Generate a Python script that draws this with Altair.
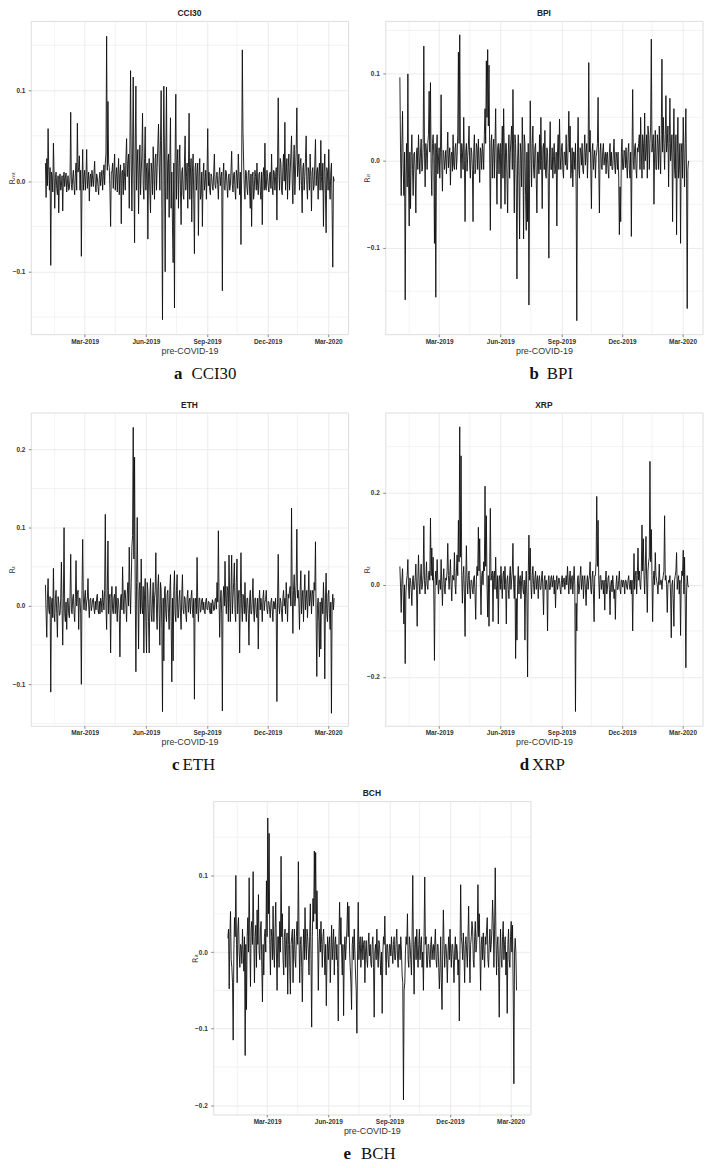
import altair as alt
import pandas as pd

# ---------------- data: daily returns from 2019-01-01 ----------------
START = "2019-01-01"

cci30 = [
    0.02, -0.018, 0.025, -0.005, 0.058, 0.012, -0.01, 0.015, -0.093, 0.01, 0.005, -0.012, 0.042, 0.008, -0.03, 0.004, 0.01, -0.008, -0.015, 0.006,
    -0.035, 0.002, 0.008, -0.01, -0.005, 0.006, -0.033, 0.004, 0.01, -0.006, 0.003, 0.009, -0.012, -0.002, 0.006, -0.01, -0.008, 0.005, 0.076, -0.004,
    -0.01, 0.004, 0.012, -0.006, -0.015, 0.008, 0.02, -0.01, 0.064, 0.01, 0.015, 0.028, -0.01, 0.012, -0.083, -0.004, 0.035, -0.01, 0.005, 0.012,
    -0.01, 0.006, 0.035, -0.008, 0.002, 0.01, -0.022, 0.004, 0.008, -0.006, 0.012, 0.002, -0.006, 0.009, 0.022, -0.004, -0.012, 0.008, 0.004, -0.006,
    -0.015, 0.003, 0.01, -0.005, 0.005, 0.012, -0.01, 0.006, 0.018, -0.004, 0.02, 0.03, 0.16, 0.012, 0.088, 0.02, 0.015, -0.01, -0.05, 0.01,
    0.01, 0.02, -0.008, 0.012, 0.03, -0.01, 0.005, 0.015, -0.012, 0.008, 0.025, -0.015, 0.008, 0.018, -0.047, 0.01, 0.012, -0.015, 0.02, 0.005,
    -0.01, 0.025, 0.047, 0.005, 0.02, 0.03, -0.03, 0.04, 0.122, 0.02, -0.033, 0.03, 0.115, 0.01, -0.068, 0.04, 0.105, -0.01, 0.02, 0.035,
    -0.036, 0.01, 0.04, -0.015, 0.01, 0.03, 0.075, -0.005, -0.02, 0.025, 0.06, -0.01, 0.015, 0.02, -0.064, 0.01, 0.025, -0.012, -0.035, 0.02,
    0.01, -0.015, 0.038, 0.01, -0.02, 0.025, 0.03, -0.01, 0.015, 0.04, 0.063, 0.02, -0.01, 0.045, 0.1, -0.03, -0.153, 0.02, 0.105, 0.03,
    -0.1, 0.03, 0.104, -0.02, 0.02, 0.03, -0.04, 0.025, 0.07, -0.03, 0.01, -0.05, -0.09, 0.02, -0.14, 0.03, 0.096, -0.02, 0.02, 0.035,
    -0.03, 0.015, 0.04, -0.01, -0.048, 0.01, 0.015, -0.015, -0.02, 0.02, 0.05, -0.01, 0.005, 0.02, -0.03, 0.015, 0.075, -0.02, 0.01, 0.025,
    -0.045, 0.01, 0.03, -0.02, -0.08, 0.015, 0.02, -0.01, 0.01, 0.02, -0.06, 0.005, 0.025, -0.02, -0.015, 0.01, -0.05, 0.005, 0.02, -0.01,
    0.0, 0.012, -0.02, 0.01, 0.058, -0.005, 0.01, -0.01, -0.015, 0.008, 0.005, -0.006, -0.01, 0.01, 0.03, -0.005, -0.008, 0.006, 0.01, -0.004,
    -0.02, 0.006, 0.015, -0.005, 0.005, 0.01, -0.121, 0.005, 0.02, -0.008, -0.01, 0.012, 0.01, -0.006, -0.018, 0.004, 0.008, -0.01, -0.005, 0.012,
    0.033, -0.004, -0.012, 0.008, 0.01, -0.01, -0.02, 0.012, 0.005, -0.008, 0.03, 0.004, -0.015, 0.01, -0.07, 0.01, 0.145, 0.055, 0.02, -0.01,
    -0.02, 0.012, 0.01, -0.008, -0.015, 0.01, 0.012, -0.012, -0.03, 0.008, -0.05, 0.005, 0.01, -0.02, -0.01, 0.012, 0.005, -0.01, 0.02, -0.005,
    -0.015, 0.008, 0.01, -0.01, -0.02, 0.01, -0.048, 0.005, 0.015, -0.01, 0.042, -0.008, -0.01, 0.012, 0.005, -0.006, -0.012, 0.008, 0.01, -0.008,
    0.03, -0.005, -0.015, 0.012, 0.01, -0.01, 0.005, 0.015, -0.043, 0.02, 0.092, 0.01, -0.01, 0.025, 0.02, -0.01, -0.015, 0.015, 0.03, 0.0,
    0.065, -0.01, 0.01, 0.025, -0.02, 0.015, 0.03, -0.01, 0.01, 0.03, 0.05, 0.0, -0.025, 0.02, 0.04, -0.015, 0.01, 0.035, 0.081, 0.005,
    0.015, 0.03, -0.01, 0.02, 0.025, -0.005, -0.035, 0.015, 0.02, -0.01, 0.005, 0.025, 0.05, -0.005, -0.02, 0.015, 0.01, -0.01, 0.03, 0.005,
    -0.033, 0.01, 0.015, -0.01, -0.005, 0.02, 0.046, -0.005, 0.01, 0.015, -0.02, 0.01, 0.02, -0.01, 0.045, 0.005, -0.01, 0.02, -0.05, 0.01,
    0.03, -0.015, -0.057, 0.015, 0.01, -0.01, 0.035, -0.005, -0.02, 0.01, 0.02, -0.03, -0.095, 0.005, 0.0,
]

bpi = [
    0.096, 0.01, -0.04, 0.02, 0.057, -0.01, -0.04, 0.01, -0.16, -0.02, 0.02, -0.03, 0.1, -0.02, -0.075, 0.01, -0.055, 0.005, 0.03, -0.01,
    -0.04, 0.008, 0.01, -0.015, -0.06, 0.01, 0.015, -0.01, 0.03, 0.005, -0.015, 0.01, 0.025, -0.012, -0.01, 0.02, 0.132, 0.01, -0.03, 0.02,
    0.01, -0.01, 0.02, 0.03, 0.08, 0.01, 0.09, -0.01, -0.04, 0.02, 0.03, 0.005, -0.095, 0.02, -0.157, 0.01, 0.03, -0.015, 0.0, 0.015,
    -0.02, 0.01, 0.076, -0.005, -0.035, 0.012, 0.01, -0.01, 0.0, 0.012, -0.015, 0.008, 0.033, -0.008, 0.005, 0.015, -0.028, 0.005, 0.01, -0.012,
    0.03, -0.005, -0.01, 0.015, 0.02, -0.01, 0.005, 0.03, 0.125, 0.02, 0.145, 0.01, -0.02, 0.02, 0.01, -0.01, 0.05, 0.0, -0.07, 0.01,
    0.02, -0.012, 0.005, 0.018, 0.04, -0.005, -0.02, 0.015, 0.01, -0.01, -0.07, 0.01, 0.03, -0.015, -0.01, 0.02, 0.015, -0.01, 0.025, 0.0,
    -0.025, 0.015, 0.01, -0.01, 0.02, 0.01, -0.01, 0.03, 0.06, 0.02, 0.115, 0.05, 0.128, 0.04, 0.11, 0.01, -0.08, 0.02, 0.03, -0.02,
    0.01, 0.025, -0.02, 0.02, 0.06, -0.01, -0.05, 0.015, 0.02, -0.015, 0.01, 0.02, -0.055, 0.01, 0.04, -0.02, 0.06, 0.01, -0.05, 0.02,
    0.02, -0.02, -0.06, 0.01, 0.03, -0.02, 0.01, 0.025, 0.04, -0.01, 0.082, 0.01, -0.06, 0.03, 0.02, -0.03, -0.136, 0.0, 0.03, -0.02,
    -0.09, 0.02, 0.01, -0.03, 0.05, 0.01, -0.09, 0.03, 0.02, -0.04, -0.08, 0.01, -0.07, 0.02, -0.166, -0.02, 0.069, 0.01, -0.03, 0.02,
    0.04, -0.01, -0.02, 0.015, 0.02, -0.02, -0.06, 0.01, 0.01, -0.015, 0.03, -0.01, 0.05, 0.0, -0.055, 0.015, 0.02, -0.01, 0.035, -0.015,
    -0.02, 0.015, 0.01, -0.02, -0.112, 0.01, 0.045, -0.01, -0.01, 0.015, -0.02, 0.005, 0.02, -0.015, -0.01, 0.01, -0.075, 0.01, 0.03, -0.01,
    0.048, 0.005, -0.01, 0.015, 0.02, -0.01, -0.02, 0.01, 0.01, -0.005, 0.03, -0.01, -0.01, 0.02, 0.057, 0.01, 0.04, -0.02, -0.01, 0.015,
    -0.03, 0.01, 0.01, -0.01, 0.02, -0.03, -0.184, 0.01, 0.05, -0.01, -0.02, 0.015, 0.01, -0.005, 0.02, -0.01, -0.015, 0.01, 0.03, -0.005,
    0.01, 0.02, -0.02, 0.01, 0.113, 0.01, 0.035, -0.01, -0.055, 0.01, 0.02, -0.01, 0.005, 0.012, -0.02, 0.005, 0.01, 0.02, 0.073, -0.01,
    -0.06, 0.01, 0.02, -0.008, -0.01, 0.012, 0.02, -0.005, 0.005, 0.01, -0.015, 0.008, 0.01, -0.01, -0.02, 0.01, 0.02, -0.006, 0.01, -0.01,
    -0.01, 0.01, 0.025, -0.005, -0.015, 0.01, 0.005, -0.01, 0.01, -0.02, -0.085, -0.03, -0.07, 0.01, 0.025, -0.01, -0.01, 0.012, 0.01, -0.008,
    0.015, -0.005, -0.02, 0.01, 0.02, -0.01, -0.02, 0.01, -0.087, 0.005, 0.082, 0.0, -0.01, 0.015, 0.02, -0.01, -0.02, 0.015, 0.01, 0.02,
    0.03, -0.01, 0.05, 0.01, -0.02, 0.03, 0.02, -0.01, 0.055, 0.0, 0.01, 0.03, -0.02, 0.04, 0.03, -0.01, 0.02, 0.04, 0.14, 0.01,
    0.02, 0.03, -0.05, 0.01, 0.035, -0.01, -0.01, 0.03, 0.02, -0.01, 0.04, 0.01, -0.015, 0.03, 0.117, 0.01, 0.05, 0.02, -0.01, 0.03,
    0.075, 0.01, 0.02, 0.04, -0.03, 0.02, 0.072, 0.0, 0.01, 0.03, -0.07, 0.01, 0.06, -0.01, -0.02, 0.03, -0.085, 0.01, 0.05, -0.02,
    -0.01, 0.02, -0.095, 0.01, 0.02, -0.02, 0.05, 0.01, -0.03, 0.02, 0.06, -0.02, -0.17, -0.01, 0.0,
]

eth = [
    0.027, -0.01, -0.04, 0.01, 0.035, -0.005, -0.01, 0.012, -0.11, 0.0, 0.01, -0.015, 0.048, -0.01, -0.02, 0.01, 0.02, -0.01, -0.04, 0.012,
    0.005, -0.012, -0.01, 0.01, 0.056, -0.005, -0.05, 0.01, 0.1, -0.01, -0.02, 0.005, -0.03, 0.008, 0.01, -0.01, -0.015, 0.012, 0.066, -0.005,
    -0.01, 0.01, 0.015, -0.008, -0.02, 0.01, 0.058, 0.0, 0.015, 0.02, -0.03, 0.01, 0.01, -0.01, -0.1, 0.02, 0.085, 0.01, -0.005, 0.012,
    0.02, -0.006, 0.005, 0.01, 0.035, 0.0, -0.015, 0.008, 0.01, -0.006, 0.0, 0.008, 0.01, -0.004, -0.01, 0.006, -0.005, 0.01, 0.015, -0.005,
    -0.01, 0.006, -0.01, 0.01, 0.005, -0.008, 0.02, 0.005, -0.005, 0.02, 0.117, 0.0, -0.03, 0.02, 0.083, -0.01, 0.01, 0.015, -0.06, 0.01,
    0.025, -0.005, -0.01, 0.012, 0.015, -0.01, 0.025, 0.0, -0.02, 0.01, 0.005, -0.01, -0.065, 0.01, 0.015, -0.005, 0.05, 0.01, -0.01, 0.02,
    0.02, 0.0, -0.02, 0.015, 0.03, 0.0, 0.075, 0.02, -0.01, 0.03, 0.075, 0.09, 0.228, 0.06, 0.19, 0.02, -0.084, 0.03, 0.113, 0.02,
    -0.055, 0.02, 0.03, -0.01, 0.06, 0.0, -0.01, 0.025, -0.06, 0.015, 0.035, -0.02, -0.06, 0.03, 0.02, -0.02, -0.06, 0.01, 0.035, -0.01,
    -0.02, 0.01, 0.03, -0.02, 0.01, 0.02, 0.068, -0.01, -0.03, 0.025, 0.04, -0.01, -0.05, 0.03, 0.02, -0.03, -0.135, 0.01, -0.07, 0.02,
    0.025, -0.01, -0.02, 0.015, 0.02, -0.01, -0.03, 0.02, 0.04, -0.02, -0.097, 0.01, -0.07, 0.02, 0.045, -0.01, -0.02, 0.02, 0.04, -0.015,
    -0.015, 0.01, 0.02, -0.01, -0.03, 0.015, 0.04, -0.005, -0.01, 0.012, 0.01, -0.01, -0.02, 0.01, 0.02, -0.008, 0.005, 0.01, -0.01, 0.012,
    0.02, -0.005, -0.015, 0.01, -0.119, 0.005, 0.01, -0.01, 0.062, 0.0, -0.02, 0.01, 0.01, -0.008, -0.005, 0.008, 0.01, -0.005, 0.005, -0.008,
    -0.01, 0.006, 0.01, -0.004, -0.005, 0.006, 0.005, -0.008, -0.01, 0.004, -0.01, 0.008, 0.005, -0.006, -0.005, 0.008, 0.01, -0.004, 0.03, 0.005,
    0.096, 0.01, -0.04, 0.005, 0.02, -0.01, -0.134, 0.01, 0.025, 0.0, 0.057, 0.01, -0.01, 0.025, 0.02, -0.02, 0.065, 0.01, -0.02, 0.02,
    0.065, -0.01, 0.01, 0.03, 0.055, -0.005, -0.02, 0.03, 0.06, -0.01, 0.01, 0.02, -0.06, 0.01, 0.068, 0.0, -0.02, 0.015, 0.01, -0.01,
    0.03, -0.005, -0.02, 0.01, 0.01, -0.01, -0.05, 0.01, 0.02, -0.01, -0.01, 0.01, 0.035, -0.005, -0.02, 0.01, 0.01, -0.01, -0.015, 0.01,
    -0.055, 0.005, 0.02, -0.005, 0.01, 0.0, -0.02, 0.01, 0.02, -0.006, 0.005, 0.008, 0.02, -0.004, -0.01, 0.006, 0.005, -0.005, -0.015, 0.005,
    0.01, -0.005, -0.02, 0.006, 0.005, -0.004, 0.01, -0.01, -0.122, 0.01, 0.066, 0.0, -0.01, 0.01, 0.005, -0.008, -0.02, 0.01, 0.02, 0.0,
    0.01, -0.01, 0.03, 0.005, -0.02, 0.015, 0.01, 0.02, 0.025, 0.0, 0.125, 0.02, -0.035, 0.02, 0.04, 0.0, 0.01, 0.03, 0.098, 0.01,
    0.02, 0.005, -0.03, 0.02, 0.045, -0.01, 0.01, 0.02, -0.02, 0.015, 0.04, -0.005, 0.01, 0.02, -0.015, 0.01, 0.045, 0.0, 0.01, 0.02,
    -0.01, 0.015, 0.02, 0.0, 0.03, 0.02, 0.082, -0.02, -0.09, 0.0, 0.01, -0.02, -0.065, 0.005, -0.055, 0.01, 0.01, -0.01, 0.03, 0.0,
    -0.093, 0.01, 0.042, -0.01, -0.02, 0.015, 0.02, -0.01, -0.03, 0.005, -0.137, 0.0, 0.015, -0.005, 0.01,
]

xrp = [
    0.04, -0.005, -0.06, 0.01, 0.035, -0.02, -0.085, 0.0, -0.171, -0.02, 0.01, 0.02, 0.055, -0.005, -0.03, 0.015, 0.01, -0.01, -0.045, 0.01,
    0.02, -0.01, -0.01, 0.015, 0.045, -0.01, -0.09, 0.01, 0.065, 0.005, -0.02, 0.015, 0.045, -0.01, 0.0, 0.02, 0.128, 0.01, -0.02, 0.01,
    0.05, 0.0, -0.01, 0.02, 0.03, 0.01, 0.145, 0.02, 0.08, 0.01, 0.06, -0.02, -0.164, 0.01, 0.03, 0.0, 0.055, 0.01, -0.02, 0.01,
    0.01, -0.01, 0.055, 0.0, -0.045, 0.01, 0.035, -0.01, -0.02, 0.015, 0.01, 0.03, 0.09, 0.02, -0.01, 0.02, 0.055, 0.0, -0.035, 0.02,
    0.02, 0.01, 0.07, 0.0, -0.02, 0.03, 0.065, 0.02, 0.14, 0.05, 0.343, 0.06, 0.28, 0.02, -0.04, 0.02, 0.04, -0.02, -0.112, 0.01,
    0.085, 0.01, -0.02, 0.02, 0.03, -0.01, -0.03, 0.01, 0.01, -0.01, -0.02, 0.015, 0.02, -0.02, -0.075, 0.01, 0.04, 0.02, 0.125, 0.03,
    0.1, 0.0, -0.065, 0.02, 0.03, 0.0, 0.05, 0.03, 0.214, 0.04, 0.15, 0.0, -0.07, 0.02, -0.09, 0.03, 0.166, 0.01, 0.02, 0.03,
    -0.08, 0.02, 0.03, -0.01, 0.06, 0.0, -0.03, 0.02, -0.085, 0.01, 0.02, -0.01, 0.04, 0.0, -0.03, 0.02, 0.03, -0.01, 0.04, 0.0,
    -0.085, 0.01, 0.02, -0.01, -0.03, 0.02, 0.04, -0.01, 0.01, 0.03, 0.09, 0.0, -0.03, 0.02, -0.16, -0.03, -0.12, 0.0, 0.04, -0.02,
    0.01, 0.02, -0.03, 0.01, 0.03, -0.01, -0.02, 0.01, -0.12, 0.0, 0.03, -0.03, -0.2, 0.02, 0.108, 0.01, 0.08, 0.0, -0.03, 0.02,
    0.04, 0.0, -0.02, 0.015, 0.03, -0.01, 0.01, 0.02, -0.03, 0.01, 0.02, -0.01, -0.01, 0.015, 0.03, -0.01, -0.065, 0.01, 0.02, -0.01,
    0.01, 0.0, -0.1, 0.01, 0.02, -0.01, -0.01, 0.015, 0.02, -0.005, 0.01, 0.02, -0.02, 0.01, -0.05, 0.005, 0.02, -0.01, 0.0, 0.015,
    0.01, -0.01, -0.02, 0.01, 0.02, -0.005, 0.01, 0.015, -0.01, 0.005, 0.02, 0.0, 0.04, 0.01, -0.02, 0.015, 0.03, -0.01, 0.01, 0.02,
    -0.02, 0.01, 0.04, 0.0, -0.275, -0.04, -0.1, 0.01, 0.02, -0.02, -0.01, 0.02, 0.04, -0.01, 0.01, 0.02, -0.03, 0.01, 0.02, -0.01,
    -0.045, 0.005, 0.02, -0.01, 0.01, 0.02, 0.05, -0.01, -0.02, 0.015, 0.03, -0.02, -0.08, 0.02, 0.02, 0.05, 0.192, 0.04, 0.14, 0.01,
    -0.03, 0.02, 0.02, -0.01, 0.01, 0.005, -0.02, 0.01, -0.055, 0.005, 0.03, -0.02, -0.01, 0.015, 0.02, -0.01, -0.065, 0.0, 0.01, -0.015,
    0.02, 0.0, -0.03, -0.01, -0.075, 0.0, 0.02, -0.01, -0.01, 0.01, 0.03, -0.01, -0.02, 0.01, 0.01, -0.005, 0.01, 0.005, -0.02, 0.01,
    0.01, -0.005, -0.01, 0.01, 0.02, 0.0, -0.01, 0.01, -0.02, 0.01, -0.1, 0.0, 0.068, -0.01, 0.02, 0.03, -0.02, 0.02, 0.08, 0.01,
    0.03, 0.0, -0.01, 0.03, 0.13, 0.03, 0.1, 0.02, -0.02, 0.04, 0.105, 0.01, -0.06, 0.03, 0.05, 0.06, 0.268, 0.05, 0.12, 0.02,
    -0.08, 0.01, 0.03, 0.0, 0.07, 0.02, 0.01, 0.0, -0.02, 0.01, 0.045, 0.0, 0.01, 0.01, -0.01, 0.01, 0.02, 0.03, 0.15, 0.01,
    0.02, 0.0, -0.06, 0.0, 0.01, 0.005, 0.02, -0.02, -0.115, 0.0, 0.01, -0.03, -0.09, 0.01, 0.02, 0.03, 0.07, -0.01, 0.01, 0.02,
    -0.02, 0.01, -0.11, 0.0, 0.03, 0.02, 0.075, -0.02, 0.06, -0.04, -0.18, -0.02, 0.02, 0.0, -0.005,
]

bch = [
    0.018, 0.03, -0.048, 0.02, 0.053, -0.01, -0.02, -0.04, -0.115, 0.0, 0.045, 0.02, 0.1, 0.01, -0.04, 0.03, 0.045, 0.0, -0.02, 0.01,
    0.008, -0.015, 0.03, 0.0, -0.025, 0.02, -0.135, 0.01, -0.075, 0.02, 0.045, 0.0, 0.097, 0.02, -0.045, 0.03, 0.04, 0.01, 0.105, 0.02,
    -0.04, 0.02, 0.035, -0.02, 0.055, 0.01, 0.075, 0.0, -0.01, 0.03, 0.04, -0.02, -0.065, 0.01, -0.03, 0.02, 0.03, 0.0, 0.093, 0.02,
    0.175, 0.05, 0.155, 0.01, -0.03, 0.03, 0.02, -0.01, 0.06, 0.0, -0.02, 0.03, 0.065, 0.0, -0.05, 0.02, 0.02, -0.02, 0.04, 0.0,
    0.125, 0.02, 0.05, -0.01, -0.03, 0.02, 0.03, -0.02, 0.01, 0.025, -0.055, 0.01, 0.06, -0.02, -0.055, 0.01, 0.02, 0.03, -0.04, 0.01,
    0.03, -0.01, -0.02, 0.02, 0.04, 0.01, 0.118, 0.02, -0.04, 0.01, 0.02, -0.02, -0.065, 0.0, 0.03, -0.01, 0.058, 0.01, -0.01, 0.03,
    0.02, 0.0, -0.03, 0.02, 0.063, -0.01, -0.098, 0.02, 0.07, 0.04, 0.132, 0.05, 0.13, 0.03, 0.08, 0.02, -0.05, 0.01, 0.03, 0.0,
    0.04, 0.01, -0.02, 0.02, 0.03, 0.0, -0.03, 0.01, -0.07, -0.01, 0.02, -0.01, 0.01, 0.02, -0.04, 0.0, 0.035, -0.01, 0.01, 0.03,
    -0.03, 0.01, 0.02, -0.01, 0.01, -0.02, -0.09, 0.02, 0.065, 0.01, 0.045, 0.0, -0.03, 0.01, -0.083, 0.0, 0.02, -0.01, 0.01, 0.03,
    0.065, 0.02, 0.06, 0.0, -0.02, -0.04, -0.075, 0.01, 0.02, -0.01, 0.03, 0.0, -0.03, -0.05, -0.106, 0.0, 0.065, -0.01, 0.01, 0.02,
    -0.02, 0.005, 0.02, -0.01, 0.01, 0.015, -0.04, 0.0, 0.015, -0.01, -0.02, 0.01, 0.025, -0.005, 0.01, -0.015, -0.02, 0.01, 0.02, -0.02,
    -0.085, 0.0, 0.01, -0.01, 0.03, 0.0, -0.02, 0.015, 0.01, -0.01, -0.03, 0.0, -0.08, 0.0, 0.02, 0.01, 0.047, 0.0, -0.03, 0.01,
    0.01, -0.01, -0.02, 0.01, 0.01, -0.005, 0.02, 0.0, -0.015, 0.01, 0.02, -0.01, -0.01, 0.015, 0.03, -0.005, -0.02, 0.01, 0.01, -0.01,
    0.02, 0.0, -0.03, -0.04, -0.193, -0.05, -0.04, 0.0, 0.02, 0.01, 0.05, -0.01, -0.02, 0.02, 0.01, -0.01, -0.03, 0.02, 0.1, 0.0,
    -0.055, 0.01, 0.02, -0.01, 0.03, 0.0, -0.02, 0.01, 0.03, -0.01, 0.01, 0.02, -0.02, 0.0, -0.05, 0.02, 0.098, 0.01, 0.02, -0.02,
    -0.02, 0.01, 0.01, -0.01, -0.02, 0.01, 0.02, -0.01, 0.005, 0.01, -0.01, 0.01, 0.03, -0.01, -0.02, 0.01, 0.01, -0.02, -0.048, -0.02,
    0.02, -0.04, -0.075, 0.0, 0.055, 0.01, -0.02, 0.01, 0.01, -0.01, -0.04, 0.0, 0.02, -0.01, 0.03, 0.0, -0.02, 0.01, 0.01, -0.01,
    -0.04, 0.0, 0.02, -0.01, 0.01, 0.0, -0.03, -0.01, -0.09, 0.0, 0.088, 0.02, 0.01, -0.01, 0.025, 0.0, -0.04, 0.01, 0.02, 0.0,
    -0.02, 0.02, 0.06, 0.0, -0.04, 0.01, 0.02, 0.04, 0.03, -0.01, -0.02, 0.02, 0.04, 0.0, 0.01, 0.03, 0.088, 0.02, 0.05, 0.0,
    -0.05, 0.01, 0.02, -0.01, 0.025, 0.0, -0.02, 0.02, 0.01, 0.03, 0.045, -0.01, -0.02, 0.01, 0.03, 0.0, 0.01, 0.03, 0.068, 0.04,
    -0.02, 0.03, 0.11, 0.02, -0.03, 0.01, 0.02, -0.02, -0.085, 0.0, 0.03, -0.01, -0.02, 0.02, 0.04, -0.01, 0.01, 0.02, -0.03, 0.0,
    -0.08, 0.01, 0.03, -0.01, -0.02, 0.02, 0.04, 0.0, 0.035, -0.05, -0.172, 0.0, 0.018, 0.0, -0.05,
]

series = [cci30, bpi, eth, xrp, bch]
names = ["CCI30", "BPI", "ETH", "XRP", "BCH"]
letters = ["a", "b", "c", "d", "e"]
y_titles = ["R\u2098\u209c", "R\u1d62\u209c", "R\u209c", "R\u209c", "R\u1d62\u209c"]
x_title = "pre-COVID-19"

x_major = [(2019, 3, 1), (2019, 6, 1), (2019, 9, 1), (2019, 12, 1), (2020, 3, 1)]
x_minor = ["2019-01-15", "2019-04-16", "2019-07-17", "2019-10-16", "2020-01-15"]
x_domain = [(2018, 12, 10), (2020, 3, 31)]

y_major = [
    [-0.1, 0.0, 0.1],
    [-0.1, 0.0, 0.1],
    [-0.1, 0.0, 0.1, 0.2],
    [-0.2, 0.0, 0.2],
    [-0.2, -0.1, 0.0, 0.1],
]
y_minor = [
    [-0.15, -0.05, 0.05, 0.15],
    [-0.15, -0.05, 0.05, 0.15],
    [-0.15, -0.05, 0.05, 0.15],
    [-0.1, 0.1, 0.3],
    [-0.15, -0.05, 0.05, 0.15],
]
y_domain = [
    [-0.169, 0.177],
    [-0.1995, 0.161],
    [-0.153, 0.247],
    [-0.306, 0.374],
    [-0.212, 0.197],
]

# ---------------- style ----------------
W, H = 320, 316
GRID = "#EBEBEB"
TXT = "#333333"
caption_pos = [(153, 162), (155, 163), (150, 153), (145, 148), (139, 149)]
caption_dy = [40, 40, 40, 40, 40]


def dt(t):
    return alt.DateTime(year=t[0], month=t[1], date=t[2], utc=True)


def panel(i):
    vals = series[i]
    dates = pd.date_range(START, periods=len(vals), freq="D").strftime("%Y-%m-%d")
    df = pd.DataFrame({"date": list(dates), "r": vals})

    xscale = alt.Scale(type="utc", domain=[dt(x_domain[0]), dt(x_domain[1])])
    yscale = alt.Scale(domain=y_domain[i], nice=False, zero=False)

    xaxis = alt.Axis(
        values=[dt(t) for t in x_major],
        labelExpr="utcFormat(datum.value, '%b-%Y')",
        title=x_title, titleFont="Liberation Sans", titleFontSize=9,
        titleFontWeight="normal", titleColor=TXT, titlePadding=1.5,
        labelFont="Liberation Sans", labelFontSize=6.5, labelFontWeight="bold",
        labelColor=TXT, labelPadding=1.5, tickSize=2.5, tickColor=TXT,
        tickWidth=0.6, domain=False, grid=True, gridColor=GRID, gridWidth=1,
    )
    yaxis = alt.Axis(
        values=y_major[i], format=".1f", title=y_titles[i],
        titleFont="DejaVu Sans", titleFontSize=8, titleFontWeight="normal",
        titleColor=TXT, titleAngle=-90, titleX=-18, titleY=H / 2,
        titleBaseline="middle", titleAlign="center",
        labelFont="Liberation Sans", labelFontSize=6.5, labelFontWeight="bold",
        labelColor=TXT, labelPadding=3.5, tickSize=2.5, tickColor=TXT,
        tickWidth=0.6, domain=False, grid=True, gridColor=GRID, gridWidth=1,
    )

    hminor = alt.Chart(pd.DataFrame({"v": y_minor[i]})).mark_rule(
        color=GRID, strokeWidth=0.6
    ).encode(y=alt.Y("v:Q", axis=yaxis, scale=yscale))
    vminor = alt.Chart(pd.DataFrame({"d": x_minor})).mark_rule(
        color=GRID, strokeWidth=0.6
    ).encode(x=alt.X("d:T", axis=xaxis, scale=xscale))
    line = alt.Chart(df).mark_line(color="#0D0D0D", strokeWidth=0.9, clip=True).encode(
        x=alt.X("date:T", scale=xscale, axis=xaxis),
        y=alt.Y("r:Q", scale=yscale, axis=yaxis),
    )
    lx, nx = caption_pos[i]
    cap_letter = alt.Chart(pd.DataFrame({"t": [letters[i]]})).mark_text(
        font="Liberation Serif", fontSize=17, fontWeight="bold", align="right",
        baseline="middle", color="#111111",
    ).encode(text="t:N", x=alt.value(lx), y=alt.value(H + caption_dy[i]))
    cap_name = alt.Chart(pd.DataFrame({"t": [names[i]]})).mark_text(
        font="Liberation Serif", fontSize=17, fontWeight="normal", align="left",
        baseline="middle", color="#111111",
    ).encode(text="t:N", x=alt.value(nx), y=alt.value(H + caption_dy[i]))

    return alt.layer(hminor, vminor, line, cap_letter, cap_name).properties(
        width=W, height=H,
        title=alt.TitleParams(
            names[i], font="Liberation Sans", fontSize=8.5, fontWeight="bold",
            color="#222222", anchor="middle", frame="group", offset=3,
        ),
    )


spacer = alt.Chart(pd.DataFrame({"z": [0]})).mark_point(opacity=0).properties(
    width=184, height=10, view=alt.ViewBackground(stroke="transparent")
)

row1 = alt.hconcat(panel(0), panel(1), spacing=37.5, bounds="flush")
row2 = alt.hconcat(panel(2), panel(3), spacing=37.5, bounds="flush")
row3 = alt.hconcat(spacer, panel(4), spacing=0, bounds="flush")

top_rows = alt.vconcat(row1, row2, spacing=17)
chart = alt.vconcat(top_rows, row3, spacing=14).properties(
    padding={"top": -5, "left": 0, "right": 0, "bottom": 0}
).configure_view(stroke="#4D4D4D", strokeWidth=1).configure(background="white")

chart.save("out.html", embed_options={"renderer": "svg", "actions": False})
